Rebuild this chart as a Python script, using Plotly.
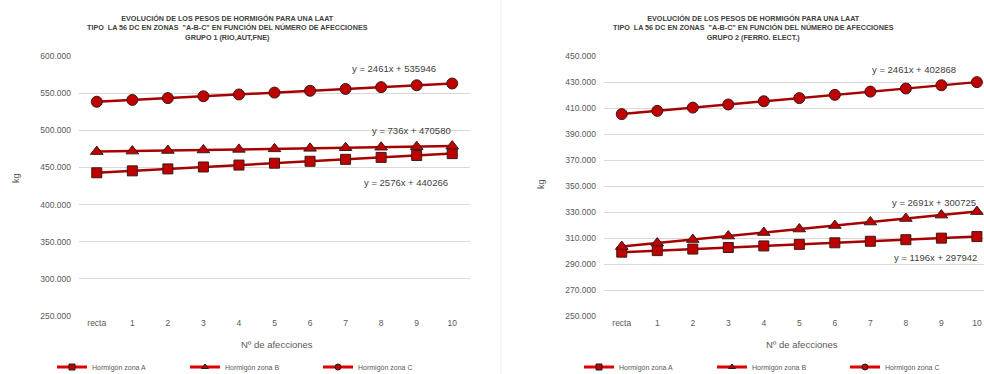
import plotly.graph_objects as go

categories = ["recta", "1", "2", "3", "4", "5", "6", "7", "8", "9", "10"]

# Grupo 1 (RIO, AUT, FNE)
g1_zona_a = [442800, 445400, 448000, 450600, 453200, 455700, 458300, 460900, 463500, 466100, 468600]
g1_zona_b = [471300, 472000, 472800, 473500, 474300, 475000, 475700, 476500, 477200, 477900, 478700]
g1_zona_c = [538400, 540900, 543300, 545800, 548200, 550700, 553200, 555600, 558100, 560600, 563000]

# Grupo 2 (FERRO. ELECT.)
g2_zona_a = [299100, 300300, 301500, 302700, 303900, 305100, 306300, 307500, 308700, 309900, 311100]
g2_zona_b = [303400, 306100, 308800, 311500, 314200, 316900, 319600, 322300, 325000, 327600, 330300]
g2_zona_c = [405300, 407800, 410300, 412700, 415200, 417600, 420100, 422600, 425000, 427500, 429900]

series_names = ["Hormigón zona A", "Hormigón zona B", "Hormigón zona C"]
symbols = ["square", "triangle-up", "circle"]

titles = [
    "EVOLUCIÓN DE LOS PESOS DE HORMIGÓN PARA UNA LAAT<br>TIPO  LA 56 DC EN ZONAS  \"A-B-C\" EN FUNCIÓN DEL NÚMERO DE AFECCIONES<br>GRUPO 1 (RIO,AUT,FNE)",
    "EVOLUCIÓN DE LOS PESOS DE HORMIGÓN PARA UNA LAAT<br>TIPO  LA 56 DC EN ZONAS  \"A-B-C\" EN FUNCIÓN DEL NÚMERO DE AFECCIONES<br>GRUPO 2 (FERRO. ELECT.)",
]
g1_equations = ["y = 2576x + 440266", "y = 736x + 470580", "y = 2461x + 535946"]
g2_equations = ["y = 1196x + 297942", "y = 2691x + 300725", "y = 2461x + 402868"]

W, H = 984, 374
LINE_COL = "#A80000"
FILL_COL = "#C00000"
EDGE_COL = "#3a1a1a"
TXT = "#595959"
FONT = "Liberation Sans"


def fx(px):
    return px / W


def fy(py):
    return 1 - py / H


fig = go.Figure()

groups = [
    (g1_zona_a, g1_zona_b, g1_zona_c),
    (g2_zona_a, g2_zona_b, g2_zona_c),
]
axes = [("x", "y", "legend"), ("x2", "y2", "legend2")]
msize = [10, 11, 11]

for gi, (series, (xa, ya, lg)) in enumerate(zip(groups, axes)):
    for si, vals in enumerate(series):
        fig.add_trace(go.Scatter(
            x=categories, y=vals, xaxis=xa, yaxis=ya,
            mode="lines+markers", name=series_names[si],
            line=dict(color=LINE_COL, width=2.5),
            marker=dict(symbol=symbols[si], size=msize[si], color=FILL_COL,
                        line=dict(color=EDGE_COL, width=1)),
            showlegend=False,
        ))
    for si in range(3):
        fig.add_trace(go.Scatter(
            x=[None], y=[None], xaxis=xa, yaxis=ya,
            mode="lines+markers", name=series_names[si],
            line=dict(color="#E00000", width=3),
            marker=dict(symbol=symbols[si], size=6, color=FILL_COL,
                        line=dict(color="#202020", width=1)),
            legend=lg, showlegend=True,
        ))

ydom = [fy(316), fy(56)]
axis_common = dict(
    showline=False, zeroline=False, ticks="", automargin=False,
    tickfont=dict(size=8.5, color=TXT, family=FONT),
)
legend_common = dict(
    orientation="h", y=fy(367), xanchor="left", yanchor="middle",
    entrywidth=88, font=dict(size=7, color=TXT, family=FONT),
    bgcolor="rgba(0,0,0,0)", tracegroupgap=0,
)
fig.update_layout(
    width=W, height=H,
    margin=dict(l=0, r=0, t=0, b=0, autoexpand=False),
    paper_bgcolor="white", plot_bgcolor="white",
    separators=",.",
    font=dict(family=FONT, color=TXT),
    xaxis=dict(domain=[fx(79), fx(470)], type="category", range=[-0.5, 10.5],
               showgrid=False, anchor="y", **axis_common),
    yaxis=dict(domain=ydom, range=[250000, 600000], tick0=250000, dtick=50000, tickformat=",d",
               showgrid=True, gridcolor="#D9D9D9", gridwidth=1, anchor="x",
               ticklabelstandoff=7, **axis_common),
    xaxis2=dict(domain=[fx(604), 1.0], type="category", range=[-0.5, 10.2],
                showgrid=False, anchor="y2", **axis_common),
    yaxis2=dict(domain=ydom, range=[250000, 450000], tick0=250000, dtick=20000, tickformat=",d",
                showgrid=True, gridcolor="#D9D9D9", gridwidth=1, anchor="x2",
                ticklabelstandoff=7, **axis_common),
    legend=dict(x=fx(52), **legend_common),
    legend2=dict(x=fx(579), **legend_common),
)


def px_ann(x, y, text, size, color=TXT, angle=0, xanchor="center"):
    fig.add_annotation(
        xref="paper", yref="paper", x=fx(x), y=fy(y), text=text,
        showarrow=False, xanchor=xanchor, yanchor="middle", textangle=angle,
        font=dict(size=size, color=color, family=FONT),
    )


# titles
for tx, t in zip([227, 753], titles):
    fig.add_annotation(xref="paper", yref="paper", x=fx(tx), y=fy(28), text="<b>" + t + "</b>",
                       showarrow=False, xanchor="center", yanchor="middle", align="center",
                       font=dict(size=7.2, color="#404040", family=FONT))

# axis titles
px_ann(277, 344, "Nº de afecciones", 9.5)
px_ann(802, 344, "Nº de afecciones", 9.5)
px_ann(16, 178, "kg", 9, angle=-90)
px_ann(541, 184, "kg", 9, angle=-90)

# trendline equations
eq_col = "#404040"
eq_size = 9.5
px_ann(350, 68, g1_equations[2], eq_size, color=eq_col, xanchor="left")
px_ann(370, 130, g1_equations[1], eq_size, color=eq_col, xanchor="left")
px_ann(362, 183, g1_equations[0], eq_size, color=eq_col, xanchor="left")
px_ann(870, 70, g2_equations[2], eq_size, color=eq_col, xanchor="left")
px_ann(890, 202, g2_equations[1], eq_size, color=eq_col, xanchor="left")
px_ann(892, 257, g2_equations[0], eq_size, color=eq_col, xanchor="left")

# faint chart border between the two charts
fig.add_shape(type="line", xref="paper", yref="paper", x0=fx(501), x1=fx(501), y0=0, y1=1,
              line=dict(color="#EFEFEF", width=1))

fig.write_html(
    "out.html",
    config={"displayModeBar": False},
    post_script="document.body.style.margin='0';document.documentElement.style.overflow='hidden';",
)
